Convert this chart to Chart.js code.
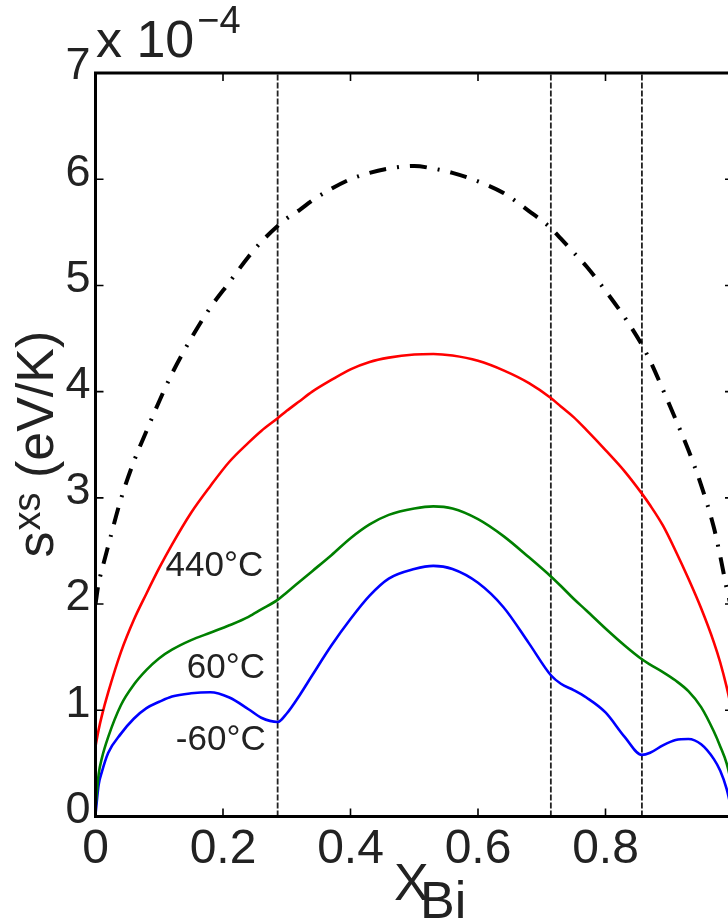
<!DOCTYPE html>
<html>
<head>
<meta charset="utf-8">
<script src="https://cdn.jsdelivr.net/npm/chart.js@4.4.1/dist/chart.umd.min.js"></script>
<style>
  html, body { margin: 0; padding: 0; background: #fff; overflow: hidden; width: 728px; height: 921px; }
  #wrap { position: relative; width: 728px; height: 921px; overflow: hidden; }
  canvas { display: block; }
</style>
</head>
<body>
<div id="wrap"><canvas id="c" width="780" height="921"></canvas></div>
<script>
// ---- data (values in units of 1e-4 eV/K) ----
const xBi = [0, 0.005, 0.01, 0.02, 0.04, 0.06, 0.08, 0.10, 0.12, 0.15, 0.18, 0.21, 0.24, 0.26, 0.2857, 0.30, 0.32, 0.34, 0.37, 0.40, 0.43, 0.46, 0.50, 0.53, 0.56, 0.60, 0.64, 0.68, 0.7143, 0.73, 0.75, 0.77, 0.80, 0.83, 0.8571, 0.87, 0.89, 0.91, 0.93, 0.95, 0.97, 0.98, 0.99, 1.0];
const sLimit = [2.0, 2.2, 2.32, 2.55, 2.99, 3.34, 3.63, 3.91, 4.17, 4.50, 4.79, 5.03, 5.27, 5.41, 5.56, 5.63, 5.71, 5.80, 5.91, 6.00, 6.06, 6.10, 6.125, 6.10, 6.06, 5.98, 5.87, 5.70, 5.54, 5.44, 5.31, 5.18, 4.95, 4.70, 4.44, 4.29, 4.02, 3.74, 3.45, 3.12, 2.72, 2.45, 2.15, 1.9];
const s440 = [0.66, 0.82, 0.95, 1.17, 1.55, 1.85, 2.10, 2.34, 2.56, 2.86, 3.11, 3.34, 3.52, 3.63, 3.75, 3.82, 3.91, 4.00, 4.11, 4.21, 4.28, 4.32, 4.35, 4.355, 4.34, 4.29, 4.20, 4.08, 3.94, 3.86, 3.76, 3.64, 3.45, 3.25, 3.04, 2.93, 2.74, 2.50, 2.24, 1.96, 1.64, 1.45, 1.22, 0.95];
const s60 = [0.08, 0.40, 0.55, 0.75, 1.05, 1.24, 1.38, 1.49, 1.57, 1.66, 1.73, 1.80, 1.88, 1.95, 2.04, 2.11, 2.21, 2.31, 2.46, 2.62, 2.75, 2.84, 2.90, 2.92, 2.90, 2.80, 2.64, 2.44, 2.26, 2.17, 2.05, 1.94, 1.77, 1.61, 1.48, 1.43, 1.36, 1.28, 1.18, 1.03, 0.80, 0.66, 0.50, 0.25];
const sMinus60 = [0.02, 0.30, 0.42, 0.60, 0.78, 0.92, 1.02, 1.08, 1.13, 1.16, 1.17, 1.12, 1.01, 0.93, 0.89, 0.97, 1.14, 1.33, 1.61, 1.86, 2.08, 2.24, 2.33, 2.36, 2.33, 2.20, 1.97, 1.63, 1.33, 1.25, 1.19, 1.12, 0.98, 0.75, 0.58, 0.60, 0.67, 0.72, 0.73, 0.68, 0.54, 0.43, 0.26, 0.0];
const phaseBoundaries = [2/7, 5/7, 6/7];
const xTicks = [0, 0.2, 0.4, 0.6, 0.8, 1];
const xTickLabels = ['0', '0.2', '0.4', '0.6', '0.8', ''];
const yTicks = [0, 1, 2, 3, 4, 5, 6, 7];
const yTickLabels = ['0', '1', '2', '3', '4', '5', '6', '7'];
const curveLabels = ['440°C', '60°C', '-60°C'];
const curveLabelX = [0.263, 0.266, 0.267];
const curveLabelY = [2.38, 1.42, 0.744];

const FONT = "'Liberation Sans', Arial, Helvetica, sans-serif";
const TXT = '#222';

function pts(ys) { return xBi.map((x, i) => ({ x: x, y: ys[i] })); }

const datasets = [];
phaseBoundaries.forEach(b => {
  datasets.push({
    data: [{ x: b, y: 0 }, { x: b, y: 7 }],
    borderColor: '#222', borderWidth: 1.8, borderDash: [6, 2],
    pointRadius: 0, showLine: true, order: 5, tension: 0
  });
});
const curveStyle = { pointRadius: 0, showLine: true, cubicInterpolationMode: 'monotone', borderCapStyle: 'butt' };
datasets.push(Object.assign({ data: pts(sLimit), borderColor: '#000', borderWidth: 4, borderDash: [17, 11, 2, 11], order: 1 }, curveStyle));
datasets.push(Object.assign({ data: pts(s440), borderColor: '#ff0000', borderWidth: 2.6, order: 2 }, curveStyle));
datasets.push(Object.assign({ data: pts(s60), borderColor: '#008000', borderWidth: 2.6, order: 3 }, curveStyle));
datasets.push(Object.assign({ data: pts(sMinus60), borderColor: '#0000ff', borderWidth: 2.6, order: 4 }, curveStyle));

const framePlugin = {
  id: 'frame',
  afterDatasetsDraw(chart) {
    const { ctx, chartArea: a, scales } = chart;
    ctx.save();
    ctx.strokeStyle = '#000';
    ctx.lineWidth = 1.6;
    const tl = 8;
    scales.x.ticks.forEach(t => {
      const px = scales.x.getPixelForValue(t.value);
      ctx.beginPath();
      ctx.moveTo(px, a.bottom); ctx.lineTo(px, a.bottom - tl);
      ctx.moveTo(px, a.top); ctx.lineTo(px, a.top + tl);
      ctx.stroke();
    });
    scales.y.ticks.forEach(t => {
      const py = scales.y.getPixelForValue(t.value);
      ctx.beginPath();
      ctx.moveTo(a.left, py); ctx.lineTo(a.left + tl, py);
      ctx.moveTo(a.right, py); ctx.lineTo(a.right - tl, py);
      ctx.stroke();
    });
    ctx.lineWidth = 3;
    ctx.strokeRect(a.left, a.top, a.right - a.left, a.bottom - a.top);
    ctx.restore();
  },
  afterDraw(chart) {
    const { ctx, scales } = chart;
    ctx.save();
    ctx.fillStyle = TXT;
    ctx.textBaseline = 'alphabetic';
    // curve labels
    ctx.font = '35px ' + FONT;
    ctx.textAlign = 'right';
    curveLabels.forEach((t, i) => {
      const px = scales.x.getPixelForValue(curveLabelX[i]);
      const py = scales.y.getPixelForValue(curveLabelY[i]);
      ctx.fillText(t, px, py + 0.358 * 35);
    });
    ctx.textAlign = 'left';
    // exponent
    ctx.font = '52px ' + FONT;
    ctx.fillText('x 10', 96, 57);
    const w = ctx.measureText('x 10').width;
    ctx.font = '38px ' + FONT;
    ctx.fillText('\u22124', 96 + w + 3, 33);
    // x title
    ctx.font = '52px ' + FONT;
    ctx.fillText('X', 394, 900);
    ctx.fillText('Bi', 420, 918);
    // y title
    ctx.save();
    ctx.translate(53, 557.5);
    ctx.rotate(-Math.PI / 2);
    ctx.font = '52px ' + FONT;
    ctx.fillText('s', 0, 0);
    let x = ctx.measureText('s').width + 1;
    ctx.font = '38px ' + FONT;
    ctx.fillText('xs', x, -13);
    x += ctx.measureText('xs').width;
    ctx.font = '52px ' + FONT;
    ctx.fillText(' (eV/K)', x, 0);
    ctx.restore();
    ctx.restore();
  }
};

new Chart(document.getElementById('c'), {
  type: 'scatter',
  data: { datasets: datasets },
  options: {
    responsive: false,
    animation: false,
    devicePixelRatio: 1,
    layout: { padding: { left: 0, right: 47, top: 73, bottom: 0 } },
    plugins: { legend: { display: false }, tooltip: { enabled: false }, title: { display: false } },
    scales: {
      x: {
        type: 'linear', min: 0, max: 1,
        grid: { display: false, drawTicks: false },
        border: { display: false },
        afterBuildTicks: s => { s.ticks = xTicks.map(v => ({ value: v })); },
        afterFit: s => { s.height = 921 - 816.5; },
        ticks: {
          color: TXT, padding: 4, maxRotation: 0, autoSkip: false,
          font: { family: FONT, size: 48 },
          callback: (v, i) => xTickLabels[i]
        }
      },
      y: {
        type: 'linear', min: 0, max: 7,
        grid: { display: false, drawTicks: false },
        border: { display: false },
        afterBuildTicks: s => { s.ticks = yTicks.map(v => ({ value: v })); },
        afterFit: s => { s.width = 95.5; },
        ticks: {
          color: TXT, padding: 5, autoSkip: false, labelOffset: -6,
          font: { family: FONT, size: 45 },
          callback: (v, i) => yTickLabels[i]
        }
      }
    }
  },
  plugins: [framePlugin]
});
</script>
</body>
</html>
